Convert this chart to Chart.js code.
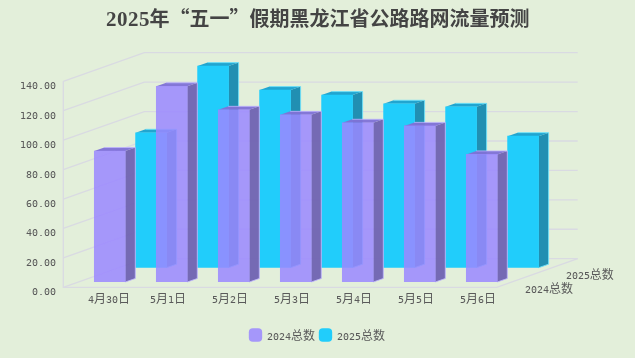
<!DOCTYPE html>
<html lang="zh-CN"><head><meta charset="utf-8">
<style>
html,body{margin:0;padding:0;background:#e3efda}#w{width:635px;height:358px}
@font-face{font-family:"ChartDigits";src:local("DejaVu Sans Mono");size-adjust:83%;unicode-range:U+30-39,U+2E}
@font-face{font-family:"TitleDigits";src:local("Liberation Serif Bold"),local("LiberationSerif-Bold");font-weight:bold;size-adjust:104%;unicode-range:U+30-39}
</style>
<script src="https://cdn.jsdelivr.net/npm/chart.js@4/dist/chart.umd.min.js"></script>
</head><body><div id="w"><canvas id="c"></canvas></div>
<script>
const titleText = '2025年“五一”假期黑龙江省公路路网流量预测';
const categories = ['4月30日','5月1日','5月2日','5月3日','5月4日','5月5日','5月6日'];
const series2024 = [89,133,117,113.6,108.2,106.1,86.7];
const series2025 = [91.7,137,120.7,117.3,111.4,109.3,89.4];
const seriesNames = ['2024总数','2025总数'];
const yTicks = [0,20,40,60,80,100,120,140];

const FONT = '"ChartDigits","Noto Sans CJK SC"';
const TITLE_FONT = '"TitleDigits","Noto Sans CJK SC"';
const TXT = '#5a5a5a';
// depth planes: [dx, dy] translation of each series' plane relative to the scales
const planes = [[21.8,-8.7],[63.1,-23]];
const faces = [
  {side:'rgba(112,100,178,.96)', top:'rgba(128,113,214,.96)', edge:'rgba(190,180,255,.8)'},
  {side:'rgba(33,143,178,1)', top:'rgba(33,165,208,1)', edge:'rgba(110,225,250,.9)'}
];
const DEPTH_X = 10, DEPTH_Y = 3.5;

const threeD = {
  id:'threeD',
  beforeDatasetsDraw(chart){
    const {ctx, scales:{x,y}} = chart;
    const L = x.left+6.3, R = x.right+5.7, dx = 81, dy = -28.6, off = -3.4;
    ctx.save();
    ctx.strokeStyle = '#d9dae2'; ctx.lineWidth = 1.3;
    yTicks.forEach(v=>{
      const p = y.getPixelForValue(v)+off;
      ctx.beginPath(); ctx.moveTo(L,p); ctx.lineTo(L+dx,p+dy); ctx.lineTo(R+dx,p+dy); ctx.stroke();
    });
    const b = y.getPixelForValue(0)+off, t = y.getPixelForValue(140)+off;
    ctx.beginPath(); ctx.moveTo(L,t); ctx.lineTo(L,b); ctx.lineTo(R,b); ctx.lineTo(R+dx,b+dy); ctx.stroke();
    ctx.restore();
  },
  beforeDatasetDraw(chart,args){
    const {ctx} = chart, i = args.index, [px,py] = planes[i], f = faces[i];
    ctx.save();
    ctx.beginPath(); ctx.rect(0,0,chart.width,chart.height); ctx.clip();
    ctx.translate(px,py);
    chart.getDatasetMeta(i).data.forEach(el=>{
      const {x,y,base,width} = el.getProps(['x','y','base','width'],true);
      const r = x+width/2, l = x-width/2;
      ctx.fillStyle = f.side;
      ctx.beginPath(); ctx.moveTo(r,y); ctx.lineTo(r+DEPTH_X,y-DEPTH_Y); ctx.lineTo(r+DEPTH_X,base-DEPTH_Y); ctx.lineTo(r,base); ctx.closePath(); ctx.fill();
      ctx.fillStyle = f.top;
      ctx.beginPath(); ctx.moveTo(l,y); ctx.lineTo(l+DEPTH_X,y-DEPTH_Y); ctx.lineTo(r+DEPTH_X,y-DEPTH_Y); ctx.lineTo(r,y); ctx.closePath(); ctx.fill();
      ctx.strokeStyle = f.edge; ctx.lineWidth = 1;
      ctx.beginPath(); ctx.moveTo(l+DEPTH_X,y-DEPTH_Y); ctx.lineTo(r+DEPTH_X,y-DEPTH_Y); ctx.lineTo(r+DEPTH_X,base-DEPTH_Y); ctx.lineTo(r,base); ctx.stroke();
    });
  },
  afterDatasetDraw(chart){ chart.ctx.restore(); },
  afterDatasetsDraw(chart){
    const {ctx, scales:{x,y}} = chart;
    const b = y.getPixelForValue(0);
    ctx.save();
    ctx.font = '12px '+FONT; ctx.fillStyle = TXT; ctx.textBaseline = 'middle'; ctx.textAlign = 'left';
    ctx.fillText(seriesNames[0], x.right+34, b-2.4);
    ctx.fillText(seriesNames[1], x.right+74.7, b-16.4);
    ctx.restore();
  }
};

function draw(){
new Chart(document.getElementById('c'),{
  type:'bar',
  data:{labels:categories,datasets:[
    {label:seriesNames[0],data:series2024,backgroundColor:'rgba(155,136,255,.86)',borderWidth:0,grouped:false,barThickness:31},
    {label:seriesNames[1],data:series2025,backgroundColor:'#21cdfb',borderWidth:0,grouped:false,barThickness:31}
  ]},
  plugins:[threeD],
  options:{
    responsive:true,maintainAspectRatio:false,animation:false,
    layout:{padding:{left:0,right:0,top:0,bottom:7}},
    plugins:{
      title:{display:true,text:titleText,color:'#444',font:{family:TITLE_FONT,size:20,weight:'bold',lineHeight:1.2},padding:{top:6,bottom:54.7}},
      legend:{position:'bottom',labels:{usePointStyle:true,pointStyle:'rectRounded',boxWidth:11,boxHeight:11,padding:5,color:TXT,font:{family:FONT,size:12}}},
      tooltip:{enabled:false}
    },
    scales:{
      x:{
        grid:{display:false,drawTicks:false},border:{display:false},
        afterFit:s=>{s.height=33.3},
        ticks:{align:'start',color:TXT,font:{family:FONT,size:12},padding:1,maxRotation:0,autoSkip:false}
      },
      y:{
        min:0,max:140,
        grid:{display:false,drawTicks:false},border:{display:false},
        afterFit:s=>{s.width=57},
        afterBuildTicks:s=>{s.ticks=yTicks.map(v=>({value:v}))},
        ticks:{color:TXT,font:{family:FONT,size:12},padding:1.5,callback:v=>Number(v).toFixed(2)}
      },
      // empty right-hand axis: reserves the room taken by the depth of the 3D floor
      depthGutter:{
        position:'right',min:0,max:1,
        grid:{display:false},border:{display:false},
        ticks:{display:false},
        afterFit:s=>{s.width=144}
      }
    }
  }
});
}
Promise.all([document.fonts.load('12px ChartDigits','0'),document.fonts.load('bold 20px TitleDigits','0')]).then(draw,draw);
</script></body></html>
